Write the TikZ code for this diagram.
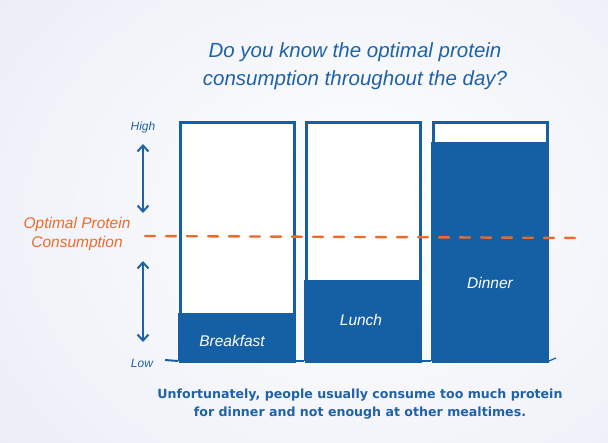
\documentclass[tikz,border=0pt]{standalone}
\usepackage{fontspec}
\setmainfont{Liberation Sans}
\newfontfamily\notefont{DejaVu Sans}
\usetikzlibrary{arrows.meta}
\definecolor{barblue}{HTML}{1560A4}
\definecolor{txtblue}{HTML}{1F62A8}
\definecolor{optorange}{HTML}{EE6A2A}
\definecolor{bgpale}{HTML}{EBEEF7}
\begin{document}
\begin{tikzpicture}[x=1pt,y=-1pt,
  frame/.style={draw=barblue,line width=3pt,fill=white!96!bgpale},
  barfill/.style={fill=barblue,draw=barblue,line width=1pt},
  barlabel/.style={font=\itshape\fontsize{15.5}{17}\selectfont,text=white},
  axislabel/.style={font=\itshape\fontsize{12}{14}\selectfont,text=txtblue},
  scalearrow/.style={draw=txtblue,line width=2pt,{Straight Barb[length=6pt,width=11pt]}-{Straight Barb[length=6pt,width=11pt]}},
  optlabel/.style={font=\itshape\fontsize{15.5}{19}\selectfont,text=optorange,align=center},
  titletext/.style={font=\itshape\fontsize{20.5}{28}\selectfont,text=txtblue,align=center},
  notetext/.style={font=\notefont\bfseries\fontsize{12.6}{18}\selectfont,text=txtblue,align=center}]
\useasboundingbox (0,0) rectangle (608,442);
\shade[inner color=white,outer color=bgpale] (-100,-150) rectangle (808,592);
% boxes
\node[frame,minimum width=114pt,minimum height=239pt,anchor=north west,inner sep=0pt] (bbox) at (179,121) {};
\node[frame,minimum width=114pt,minimum height=239pt,anchor=north west,inner sep=0pt] (lbox) at (305,121) {};
\node[frame,minimum width=114pt,minimum height=239pt,anchor=north west,inner sep=0pt] (dbox) at (432,121) {};
% fills
\node[barfill,minimum width=116pt,minimum height=47pt,anchor=south west,inner sep=0pt] (bfill) at (178,361) {};
\node[barfill,minimum width=116pt,minimum height=80pt,anchor=south west,inner sep=0pt] (lfill) at (304,361) {};
\node[barfill,minimum width=117pt,minimum height=218pt,anchor=south west,inner sep=0pt] (dfill) at (431,361) {};
\draw[barblue,line width=2pt] (165,360) -- (bfill.south west);
\draw[barblue,line width=2pt] (bfill.south east) -- (lfill.south west);
\draw[barblue,line width=2pt] (lfill.south east) -- (dfill.south west);
\draw[barblue,line width=1.2pt] (dfill.south east) -- (556,358);
\node[barlabel] (bl) at (232,341) {Breakfast};
\node[barlabel] (ll) at (361,320) {Lunch};
\node[barlabel] (dl) at (490,283) {Dinner};
% vertical scale
\node[axislabel] (high) at (143,127) {High};
\node[axislabel] (low) at (142,363) {Low};
\coordinate (a1) at (143,144);
\coordinate (a2) at (143,213);
\coordinate (a3) at (143,261);
\coordinate (a4) at (143,342);
\draw[scalearrow] (a1) -- (a2);
\draw[scalearrow] (a3) -- (a4);
% optimal line
\node[optlabel] (opt) at (77,234) {Optimal Protein\\Consumption};
\coordinate (o1) at (145,236);
\coordinate (o2) at (585,238);
\draw[optorange,line width=2.4pt,dash pattern=on 10pt off 11pt,line cap=round] (o1) -- (o2);
% title
\node[titletext] (title) at (355,66) {Do you know the optimal protein\\consumption throughout the day?};
% note
\node[notetext] (note) at (360,404) {Unfortunately, people usually consume too much protein\\for dinner and not enough at other mealtimes.};
\end{tikzpicture}
\end{document}
